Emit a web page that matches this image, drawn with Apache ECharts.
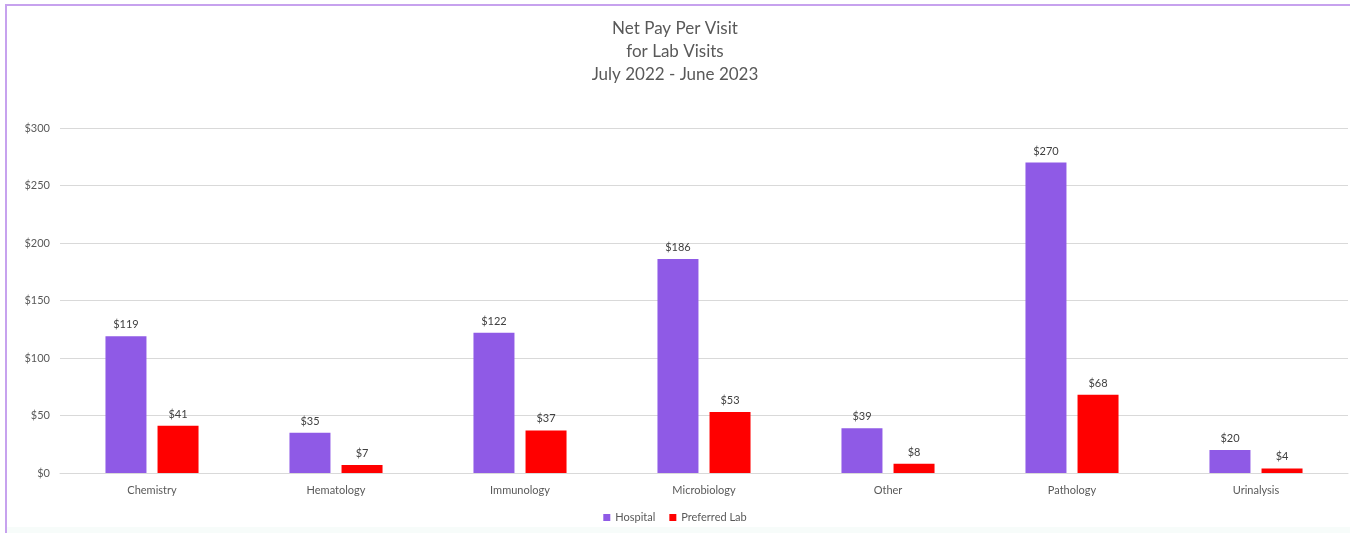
<!DOCTYPE html>
<html><head><meta charset="utf-8">
<script src="https://cdn.jsdelivr.net/npm/echarts@6/dist/echarts.min.js"></script>
<style>
html,body{margin:0;padding:0;background:#fff;}
#frame{position:absolute;left:5px;top:4px;width:1345px;height:529px;border-top:2.5px solid #C7A2EE;border-left:2.5px solid #C7A2EE;box-sizing:border-box;}
#bottomTint{position:absolute;left:7px;top:527px;width:1343px;height:6px;background:#F7FCFA;}
#chart{position:absolute;left:0;top:0;width:1350px;height:533px;}
</style></head>
<body>
<div id="frame"></div><div id="bottomTint"></div>
<div id="chart"></div>
<script>
const categories = ['Chemistry','Hematology','Immunology','Microbiology','Other','Pathology','Urinalysis'];
const hospital = [119,35,122,186,39,270,20];
const preferredLab = [41,7,37,53,8,68,4];
const titleText = 'Net Pay Per Visit\nfor Lab Visits\nJuly 2022 - June 2023';
const FONT = 'Lato, "Open Sans", sans-serif';
const chart = echarts.init(document.getElementById('chart'));
const lbl = {show:true, position:'top', distance:6, formatter: p => '$' + p.value, color:'#404040', fontSize:11, fontFamily:FONT};
chart.setOption({
  backgroundColor:'transparent',
  animation:false,
  title:{text:titleText, left:'center', top:12, textStyle:{fontSize:17, fontWeight:'normal', color:'#595959', fontFamily:FONT, lineHeight:23}},
  legend:{bottom:5, left:'center', itemWidth:7, itemHeight:7, itemGap:14, icon:'rect',
    textStyle:{color:'#595959', fontSize:11, fontFamily:FONT}},
  grid:{left:60, right:2, top:128, bottom:60, containLabel:false},
  xAxis:{type:'category', data:categories,
    axisLine:{lineStyle:{color:'#D9D9D9'}}, axisTick:{show:false},
    axisLabel:{color:'#595959', fontSize:11, fontFamily:FONT, margin:12}},
  yAxis:{type:'value', min:0, max:300, interval:50,
    axisLabel:{formatter: v => '$' + v, color:'#595959', fontSize:11, fontFamily:FONT, margin:10},
    splitLine:{lineStyle:{color:'#D9D9D9'}}, axisLine:{show:false}},
  series:[
    {name:'Hospital', type:'bar', data:hospital, barWidth:41, barGap:'27%', itemStyle:{color:'#8F5AE6'}, label:lbl},
    {name:'Preferred Lab', type:'bar', data:preferredLab, barWidth:41, barGap:'27%', itemStyle:{color:'#FF0000'}, label:lbl}
  ]
});
</script>
</body></html>
